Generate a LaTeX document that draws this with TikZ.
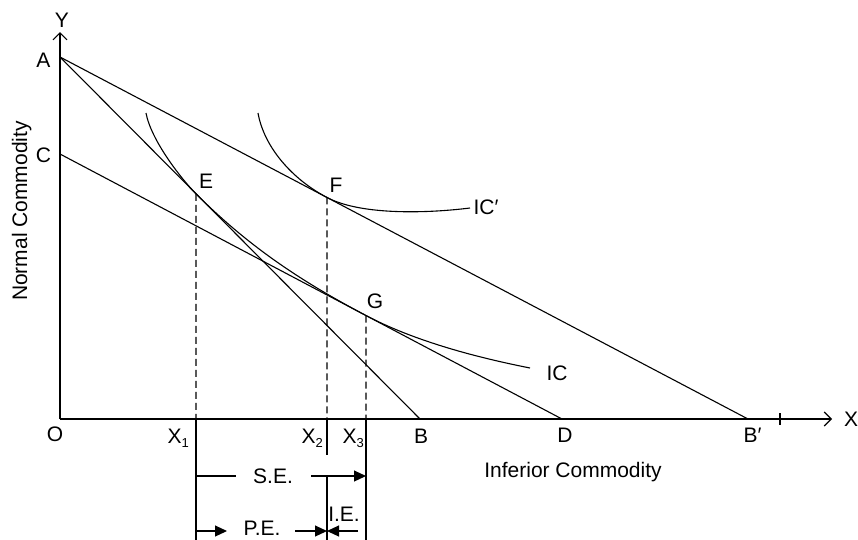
\documentclass[tikz,border=0pt]{standalone}
\usepackage{fontspec}
\setmainfont{Liberation Sans}
\usetikzlibrary{arrows.meta,calc}
\begin{document}
\begin{tikzpicture}[x=1pt,y=-1pt,line width=1.1pt,
  lbl/.style={font=\fontsize{21}{24}\selectfont,inner sep=0pt},
  axisarrow/.style={-{Straight Barb[length=7pt,width=14pt]}},
  dimarrow/.style={-{Triangle[length=12pt,width=11pt]}},
  dashv/.style={dash pattern=on 7pt off 4pt,line width=1.1pt},
  curve/.style={line width=1.1pt}]
\useasboundingbox (0,0) rectangle (858,539);
% key points
\coordinate (O) at (60,419);
\coordinate (Ytop) at (60,32);
\coordinate (Xend) at (832,419);
\coordinate (A) at (60,57);
\coordinate (C) at (60,154);
\coordinate (B) at (420,419);
\coordinate (D) at (562,419);
\coordinate (Bp) at (748,419);
\coordinate (E) at ($(A)!0.37778!(B)$);
\coordinate (F) at ($(A)!0.38808!(Bp)$);
\coordinate (G) at ($(C)!0.60956!(D)$);
\coordinate (X1) at (196,419);
\coordinate (X2) at (327,419);
\coordinate (X3) at (366,419);
\coordinate (tickT) at (780,413);
\coordinate (tickB) at (780,425);
\coordinate (X1b) at (196,545);
\coordinate (X3b) at (366,545);
\coordinate (X2m) at (327,455);
\coordinate (X2u) at (327,476);
\coordinate (X2b) at (327,545);
\coordinate (SEa) at (196,476);
\coordinate (SEb) at (236,476);
\coordinate (SEc) at (311,476);
\coordinate (SEd) at (366,476);
\coordinate (PEa) at (196,531);
\coordinate (PEb) at (227,531);
\coordinate (PEc) at (295,531);
\coordinate (PEd) at (327,531);
\coordinate (IEa) at (358,531);
\coordinate (ICs) at (146,113);
\coordinate (ICe) at (530,368);
\coordinate (ICps) at (258,113);
\coordinate (ICpe) at (470,208);
% axes
\draw[axisarrow] (O) -- (Ytop);
\draw[axisarrow] (O) -- (Xend);
\draw (tickT) -- (tickB);
% budget lines
\draw (A) -- (B);
\draw (A) -- (Bp);
\draw (C) -- (D);
% indifference curves
\draw[curve] (ICs) .. controls (151,140) and (181,178.7) .. (E)
  .. controls (251,249.1) and (306,283.8) .. (G)
  .. controls (421,344.5) and (490,360) .. (ICe);
\draw[curve] (ICps) .. controls (264,147) and (292,179.1) .. (F)
  .. controls (362,215.9) and (430,213) .. (ICpe);
% dashed drops
\draw[dashv] (E) -- (X1);
\draw[dashv] (F) -- (X2);
\draw[dashv] (G) -- (X3);
% lines below axis
\draw (X1) -- (X1b);
\draw (X3) -- (X3b);
\draw (X2) -- (X2m);
\draw (X2u) -- (X2b);
% effect arrows
\draw (SEa) -- (SEb);
\draw[dimarrow] (SEc) -- (SEd);
\draw[dimarrow] (PEa) -- (PEb);
\draw[dimarrow] (PEc) -- (PEd);
\draw[dimarrow] (IEa) -- (PEd);
% labels
\node[lbl,anchor=base] (lY) at (62,27) {Y};
\node[lbl,anchor=base] (lX) at (851,426) {X};
\node[lbl,anchor=base] (lA) at (43.5,67) {A};
\node[lbl,anchor=base] (lC) at (43.5,162) {C};
\node[lbl,anchor=base] (lO) at (55,441) {O};
\node[lbl,anchor=base west] (lX1) at (167,443) {X\raisebox{-4pt}{\fontsize{13}{14}\selectfont 1}};
\node[lbl,anchor=base west] (lX2) at (301,443) {X\raisebox{-4pt}{\fontsize{13}{14}\selectfont 2}};
\node[lbl,anchor=base west] (lX3) at (342,443) {X\raisebox{-4pt}{\fontsize{13}{14}\selectfont 3}};
\node[lbl,anchor=base] (lB) at (421,443) {B};
\node[lbl,anchor=base] (lD) at (565,442) {D};
\node[lbl,anchor=base west] (lBp) at (743,442) {B′};
\node[lbl,anchor=base] (lE) at (206,188) {E};
\node[lbl,anchor=base] (lF) at (336,192) {F};
\node[lbl,anchor=base] (lG) at (375,308) {G};
\node[lbl,anchor=base west] (lIC) at (546,380) {IC};
\node[lbl,anchor=base west] (lICp) at (473,214) {IC′};
\node[lbl,anchor=base] (lInf) at (573,477) {Inferior Commodity};
\node[lbl,anchor=base,rotate=90] (lNorm) at (27,211) {Normal Commodity};
\node[lbl,anchor=base] (lSE) at (273,483) {S.E.};
\node[lbl,anchor=base] (lPE) at (262,535) {P.E.};
\node[lbl,anchor=base] (lIE) at (344,521) {I.E.};
\end{tikzpicture}
\end{document}
